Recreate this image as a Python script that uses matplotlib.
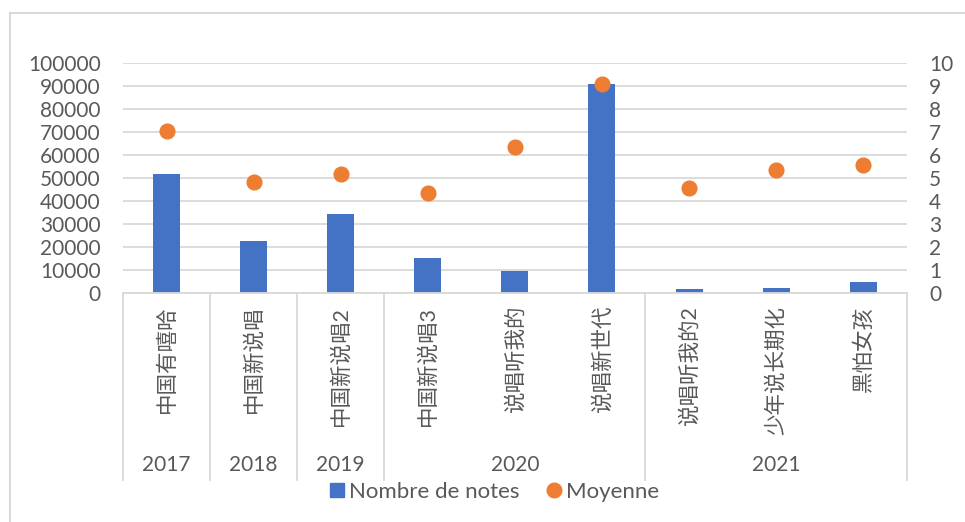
import matplotlib.pyplot as plt
from matplotlib.lines import Line2D

plt.rcParams['font.family'] = ['Lato', 'Noto Sans CJK SC', 'DejaVu Sans']

# Données
emissions = ['中国有嘻哈', '中国新说唱', '中国新说唱2', '中国新说唱3', '说唱听我的',
             '说唱新世代', '说唱听我的2', '少年说长期化', '黑怕女孩']
annees = ['2017', '2018', '2019', '2020', '2021']
groupes = [[0], [1], [2], [3, 4, 5], [6, 7, 8]]
nombre_notes = [51800, 22700, 34500, 15400, 9700, 90900, 1800, 2400, 4900]
moyenne = [7.05, 4.85, 5.17, 4.35, 6.36, 9.08, 4.57, 5.36, 5.57]

gris = '#595959'
ligne = '#d9d9d9'
bleu = '#4472C4'
orange = '#ED7D31'
fs = 15

fig = plt.figure(figsize=(9.65, 5.22), dpi=100)
ax = fig.add_axes([0.1275, 0.4381, 0.8121, 0.4406])
x = list(range(len(emissions)))

ax.bar(x, nombre_notes, width=0.31, color=bleu, zorder=2)
ax.set_xlim(-0.5, len(emissions) - 0.5)
ax.set_ylim(0, 100000)
ax.set_yticks(range(0, 100001, 10000))
ax.yaxis.grid(True, color=ligne, lw=1.3)
ax.set_axisbelow(True)
for s in ['top', 'left', 'right']:
    ax.spines[s].set_visible(False)
ax.spines['bottom'].set_color(ligne)
ax.spines['bottom'].set_linewidth(1.3)
ax.tick_params(axis='y', length=0, pad=16, labelsize=fs, labelcolor=gris)
ax.set_xticks(x, emissions, rotation=90)
ax.tick_params(axis='x', length=0, pad=9, labelsize=fs + 0.5, labelcolor=gris)

# Axe secondaire
ax2 = ax.twinx()
ax2.scatter(x, moyenne, s=112, color=orange, zorder=3)
ax2.set_ylim(0, 10)
ax2.set_yticks(range(0, 11))
for s in ax2.spines.values():
    s.set_visible(False)
ax2.tick_params(axis='y', length=0, pad=16, labelsize=fs, labelcolor=gris)

# Axe des catégories à deux niveaux
trans = ax.get_xaxis_transform()
bords = [-0.5] + [g[-1] + 0.5 for g in groupes]
for b in bords:
    ax.plot([b, b], [0, -0.812], transform=trans, color=ligne, lw=1.3, clip_on=False)
for an, g in zip(annees, groupes):
    ax.text((g[0] + g[-1]) / 2, -0.745, an, transform=trans, ha='center', va='center',
            fontsize=fs, color=gris)

# Cadre du graphique
fig.add_artist(Line2D([10 / 965, 10 / 965], [0, 1 - 13 / 522], color=ligne, lw=1.5))
fig.add_artist(Line2D([10 / 965, 1], [1 - 13 / 522, 1 - 13 / 522], color=ligne, lw=1.5))

# Légende
poignees = [Line2D([], [], marker='s', ls='', color=bleu, markersize=9.5),
            Line2D([], [], marker='o', ls='', color=orange, markersize=10.5)]
fig.legend(poignees, ['Nombre de notes', 'Moyenne'], loc='center', ncol=2,
           bbox_to_anchor=(0.512, 0.0575), frameon=False, fontsize=16,
           labelcolor=gris, handlelength=0.7, handletextpad=0.2, columnspacing=1.2)

fig.savefig('out.png', dpi=100)
